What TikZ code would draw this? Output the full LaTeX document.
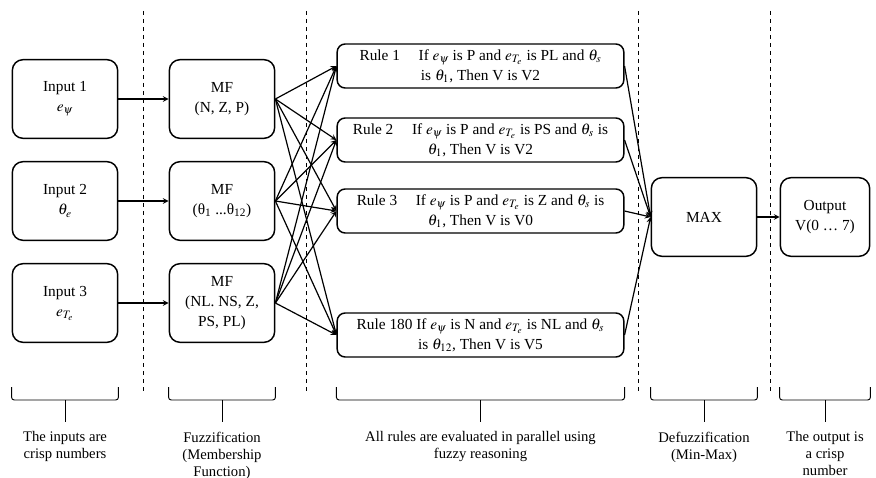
\documentclass[tikz,border=0pt]{standalone}
\usepackage{mathptmx}
\usepackage{fontspec}
\setmainfont{Liberation Serif}

\begin{document}
\begin{tikzpicture}[x=0.75pt, y=-0.75pt, font=\fontsize{11.5}{15}\selectfont, >=stealth,
    box/.style={draw, line width=1.1pt, rounded corners=8pt, align=center,
      minimum width=79pt, minimum height=59pt, inner sep=2pt},
    rulebox/.style={box, minimum width=215pt, minimum height=33pt, rounded corners=6pt},
    link/.style={->, line width=0.9pt},
    sep/.style={dashed, line width=0.6pt},
    brk/.style={line width=0.7pt, rounded corners=2pt},
    note/.style={align=center, anchor=north, font=\fontsize{11}{12.75}\selectfont}]

  \useasboundingbox (0,0) rectangle (876,478);

  % stage separators
  \foreach \x in {143, 306, 638, 770}
    \draw[sep] (\x,11) -- (\x,392);

  % crisp inputs
  \node[box] (in1) at (65,99) {Input 1\\$e_{\psi}$};
  \node[box] (in2) at (65,201) {Input 2\\$\theta_{e}$};
  \node[box] (in3) at (65,303) {Input 3\\$e_{T_e}$};

  % membership functions
  \node[box] (mf1) at (222,99) {MF\\(N, Z, P)};
  \node[box] (mf2) at (222,201) {MF\\(θ\textsubscript{1} ...θ\textsubscript{12})};
  \node[box] (mf3) at (222,303) {MF\\(NL. NS, Z,\\PS, PL)};

  % rule base
  \node[rulebox] (r1) at (480.5,66) {Rule 1\hspace{14pt}If $e_{\psi}$ is P and $e_{T_e}$ is PL and $\theta_s$\\is $\theta_1$, Then V is V2};
  \node[rulebox] (r2) at (480.5,140) {Rule 2\hspace{14pt}If $e_{\psi}$ is P and $e_{T_e}$ is PS and $\theta_s$ is\\$\theta_1$, Then V is V2};
  \node[rulebox] (r3) at (480.5,211) {Rule 3\hspace{14pt}If $e_{\psi}$ is P and $e_{T_e}$ is Z and $\theta_s$ is\\$\theta_1$, Then V is V0};
  \node[rulebox] (r4) at (480.5,335) {Rule 180 If $e_{\psi}$ is N and $e_{T_e}$ is NL and $\theta_s$\\is $\theta_{12}$, Then V is V5};

  % defuzzification and output
  \node[box] (max) at (704,217) {MAX};
  \node[box, minimum width=67pt] (out) at (825,217) {Output\\V(0 … 7)};

  % connectors
  \foreach \i in {1,2,3}
    \draw[link] (in\i) -- (mf\i);
  \foreach \m in {mf1,mf2,mf3}
    \foreach \r in {r1,r2,r3,r4}
      \draw[link] (\m.east) -- (\r.west);
  \foreach \r in {r1,r2,r3,r4}
    \draw[link] (\r.east) -- (max.west);
  \draw[link] (max) -- (out);

  % stage brackets and captions
  \foreach \n/\t [count=\i] in {in3/{The inputs are\\crisp numbers},
      mf3/{Fuzzification\\(Membership\\Function)},
      r4/{All rules are evaluated in parallel using\\fuzzy reasoning},
      max/{Defuzzification\\(Min-Max)},
      out/{The output is\\a crisp\\number}} {
    \draw[brk] (\n.west |- 0,387) -- (\n.west |- 0,400) -- (\n.east |- 0,400) -- (\n.east |- 0,387);
    \draw[brk] (\n.center |- 0,400) -- (\n.center |- 0,422);
    \node[note] (cap\i) at (\n.center |- 0,427) {\t};
  }
\end{tikzpicture}
\end{document}
